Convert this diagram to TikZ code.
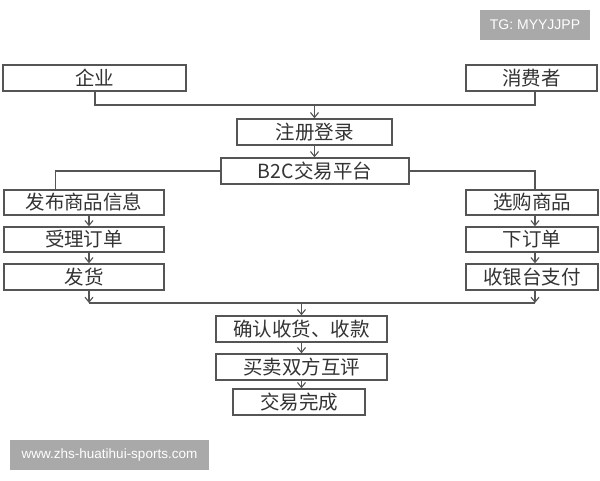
\documentclass[tikz,border=0pt]{standalone}
\usepackage{fontspec}
\setmainfont{Liberation Sans}
\newfontfamily\cjk{Noto Sans CJK SC}
\usetikzlibrary{arrows.meta}
\definecolor{boxline}{HTML}{555555}
\definecolor{txt}{HTML}{333333}
\definecolor{wm}{HTML}{A9A9A9}
\begin{document}
\begin{tikzpicture}[x=1pt,y=-1pt,
  box/.style={draw=boxline, line width=1.3pt, fill=white, inner sep=0pt,
    minimum height=26pt, font=\cjk\fontsize{19.5}{19.5}\selectfont, text=txt},
  conn/.style={draw=boxline, line width=1.1pt},
  arr/.style={conn, -{Straight Barb[length=5pt,width=8pt]}},
  wmbox/.style={fill=wm, inner sep=0pt, minimum height=30pt, text=white}]
\useasboundingbox (0,0) rectangle (600,480);
\fill[white] (0,0) rectangle (600,480);
% watermark boxes
\node[wmbox, minimum width=110pt, font=\fontsize{14}{14}\selectfont] (tg) at (535,25) {TG: MYYJJPP};
\node[wmbox, minimum width=199pt, font=\fontsize{13.5}{13.5}\selectfont] (web) at (109.5,455) {www.zhs-huatihui-sports.com};
% top
\node[box, minimum width=183pt] (qiye) at (94.5,78) {企业};
\node[box, minimum width=131pt] (xiaofei) at (531.5,78) {消费者};
\node[box, minimum width=155pt] (zhuce) at (314.5,132) {注册登录};
\node[box, minimum width=188pt] (b2c) at (315,171) {B2C交易平台};
% left column
\node[box, minimum width=160pt, minimum height=25pt] (fabu) at (84,202.5) {发布商品信息};
\node[box, minimum width=160pt, minimum height=25pt] (shouli) at (84,239.5) {受理订单};
\node[box, minimum width=160pt] (fahuo) at (84,277) {发货};
% right column
\node[box, minimum width=132pt, minimum height=25pt] (xuangou) at (532,202.5) {选购商品};
\node[box, minimum width=132pt, minimum height=25pt] (xiadan) at (532,239.5) {下订单};
\node[box, minimum width=132pt] (shouyin) at (532,277) {收银台支付};
% bottom
\node[box, minimum width=171pt] (queren) at (301.5,329) {确认收货、收款};
\node[box, minimum width=171pt] (maimai) at (301.5,367) {买卖双方互评};
\node[box, minimum width=132pt] (wancheng) at (299,402) {交易完成};
% connectors top
\coordinate (jtop) at (314.5,105);
\coordinate (jtopr) at (535,105);
\draw[conn] ([xshift=0.5pt]qiye.south) |- (jtopr) -- ([xshift=3.5pt]xiaofei.south);
\draw[arr] (jtop) -- (zhuce.north);
\draw[arr] (zhuce.south) -- (zhuce.south |- b2c.north);
\draw[conn] (b2c.west) -| ([xshift=-28.5pt]fabu.north);
\draw[conn] (b2c.east) -| ([xshift=3pt]xuangou.north);
% column arrows
\draw[arr] ([xshift=5pt]fabu.south) -- ([xshift=5pt]shouli.north);
\draw[arr] ([xshift=5pt]shouli.south) -- ([xshift=5pt]fahuo.north);
\draw[arr] ([xshift=3pt]xuangou.south) -- ([xshift=3pt]xiadan.north);
\draw[arr] ([xshift=3pt]xiadan.south) -- ([xshift=3pt]shouyin.north);
% merge
\coordinate (jl) at (89,303);
\coordinate (jr) at (535,303);
\coordinate (jm) at (301.5,303);
\draw[arr] ([xshift=5pt]fahuo.south) -- (jl);
\draw[arr] ([xshift=3pt]shouyin.south) -- (jr);
\draw[conn] (jl) -- (jr);
\draw[arr] (jm) -- (queren.north);
\draw[arr] (queren.south) -- (maimai.north);
\draw[arr] (maimai.south) -- (maimai.south |- wancheng.north);
\end{tikzpicture}
\end{document}
